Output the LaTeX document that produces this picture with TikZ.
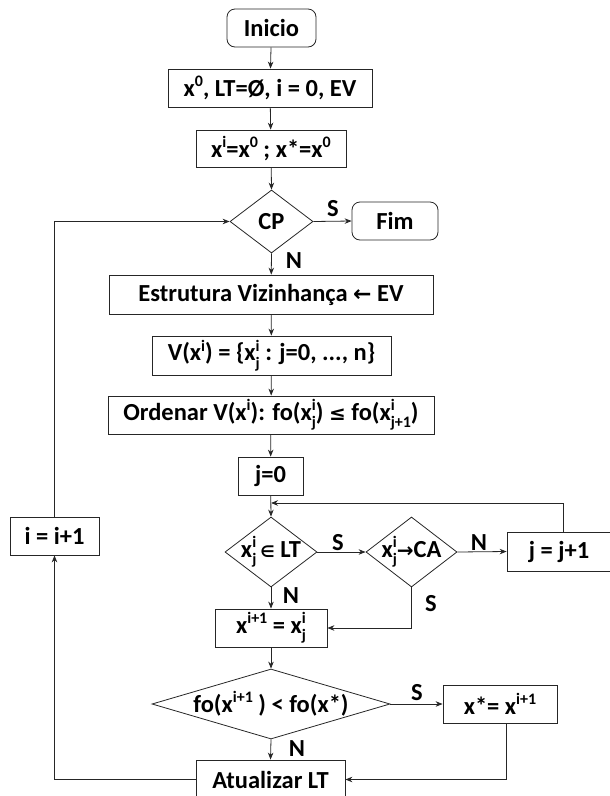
\documentclass[tikz,border=0pt]{standalone}
\usepackage{fontspec}
\setmainfont{Carlito}
\newfontfamily\symf{DejaVu Sans}
\usetikzlibrary{arrows.meta,shapes.geometric}
\newcommand\up[1]{\raisebox{0.4em}{\fontsize{16}{16}\selectfont #1}}
\newcommand\dn[1]{\raisebox{-0.3em}{\fontsize{16}{16}\selectfont #1}}
\newcommand\ud[2]{\rlap{\up{#1}}\dn{#2}}
\tikzset{
  ln/.style={draw=black!85, line width=0.8pt},
  arr/.style={ln, -{Stealth[length=7pt,width=5.5pt]}},
  big/.style={font=\fontsize{24.5}{24.5}\selectfont\bfseries},
  box/.style={draw=black!85, line width=0.8pt, inner sep=0pt, big},
  term/.style={box, rounded corners=8pt},
  dia/.style={draw=black!85, line width=0.8pt, shape=diamond, inner sep=0pt},
  lbl/.style={big, inner sep=0pt},
  dtext/.style={label={[big, inner sep=0pt]center:#1}}
}
\begin{document}
\begin{tikzpicture}[x=1pt,y=-1pt]
\useasboundingbox (0,0) rectangle (610,796);
% nodes
\node[term, minimum width=89pt, minimum height=38pt] (ini) at (271.5,28) {Inicio};
\node[box, minimum width=204pt, minimum height=38pt] (b1) at (270,88) {x\up{0}, LT=Ø, i = 0, EV};
\node[box, minimum width=150pt, minimum height=37pt] (b2) at (271,148.5) {x\up{i}=x\up{0} ; x*=x\up{0}};
\node[dia, minimum width=83pt, minimum height=63pt, dtext={CP}] (cp) at (271.5,221.5) {};
\node[term, minimum width=86pt, minimum height=38pt] (fim) at (395,221) {Fim};
\node[box, minimum width=324pt, minimum height=39pt] (ev) at (271,294.5) {Estrutura Vizinhança {\symf\bfseries\fontsize{22}{22}\selectfont ←} EV};
\node[box, minimum width=239pt, minimum height=39pt] (vx) at (271.5,355.5) {V(x\up{i}) = \{x\ud{i}{j} : j=0, ..., n\}};
\node[box, minimum width=326pt, minimum height=38pt] (ord) at (271,415) {Ordenar V(x\up{i}): fo(x\ud{i}{j}) {\symf\fontsize{20}{20}\selectfont ≤} fo(x\ud{i}{j+1})};
\node[box, minimum width=65pt, minimum height=38pt] (j0) at (270.5,476) {j=0};
\node[dia, minimum width=92pt, minimum height=70pt, dtext={x\ud{i}{j}\,{\symf\fontsize{16}{16}\selectfont ∈} LT}] (d1) at (271,552) {};
\node[dia, minimum width=91pt, minimum height=70pt, dtext={x\ud{i}{j}{\symf\fontsize{20}{20}\selectfont →}CA}] (d2) at (411.5,552) {};
\node[box, minimum width=104pt, minimum height=39pt] (jj) at (559,551.5) {j = j+1};
\node[box, minimum width=89pt, minimum height=38pt] (i1) at (54.5,536) {i = i+1};
\node[box, minimum width=112pt, minimum height=38pt] (xn) at (271,628) {x\up{i+1} = x\ud{i}{j}};
\node[dia, minimum width=238pt, minimum height=70pt, dtext={fo(x\up{i+1} ) < fo(x*)}] (fo) at (271,704) {};
\node[box, minimum width=114pt, minimum height=38pt] (xs) at (500,704) {x*= x\up{i+1}};
\node[box, minimum width=149pt, minimum height=39pt] (atu) at (270.5,779.5) {Atualizar LT};
% labels
\node[lbl] (ls1) at (333,209) {S};
\node[lbl] (ln1) at (294,261) {N};
\node[lbl] (ls2) at (338,543) {S};
\node[lbl] (ln2) at (479,543) {N};
\node[lbl] (ln3) at (291,596) {N};
\node[lbl] (ls3) at (431,604) {S};
\node[lbl] (ls4) at (417,693) {S};
\node[lbl] (ln4) at (297,749) {N};
% connectors
\draw[arr] (ini) -- (b1);
\draw[arr] (b1) -- (b2);
\draw[arr] (b2) -- (cp.north);
\draw[arr] (cp.east) -- (fim.west);
\draw[arr] (cp.south) -- (ev);
\draw[arr] (ev) -- (vx);
\draw[arr] (vx) -- (ord);
\draw[arr] (ord) -- (j0);
\draw[arr] (j0) -- (d1.north);
\coordinate (lp) at (271,503);
\draw[arr] ([xshift=4.5pt]jj.north) |- (lp);
\draw[arr] (d1.east) -- (d2.west);
\draw[arr] (d2.east) -- (jj.west);
\draw[arr] (d1.south) -- (xn.north);
\draw[arr] (d2.south) |- (xn.east);
\draw[arr] (xn) -- (fo.north);
\draw[arr] (fo.east) -- (xs.west);
\draw[arr] (fo.south) -- (atu.north);
\draw[arr] ([xshift=6pt]xs.south) |- (atu.east);
\draw[arr] (atu.west) -| (i1.south);
\draw[arr] (i1.north) |- (cp.west);
\end{tikzpicture}
\end{document}
